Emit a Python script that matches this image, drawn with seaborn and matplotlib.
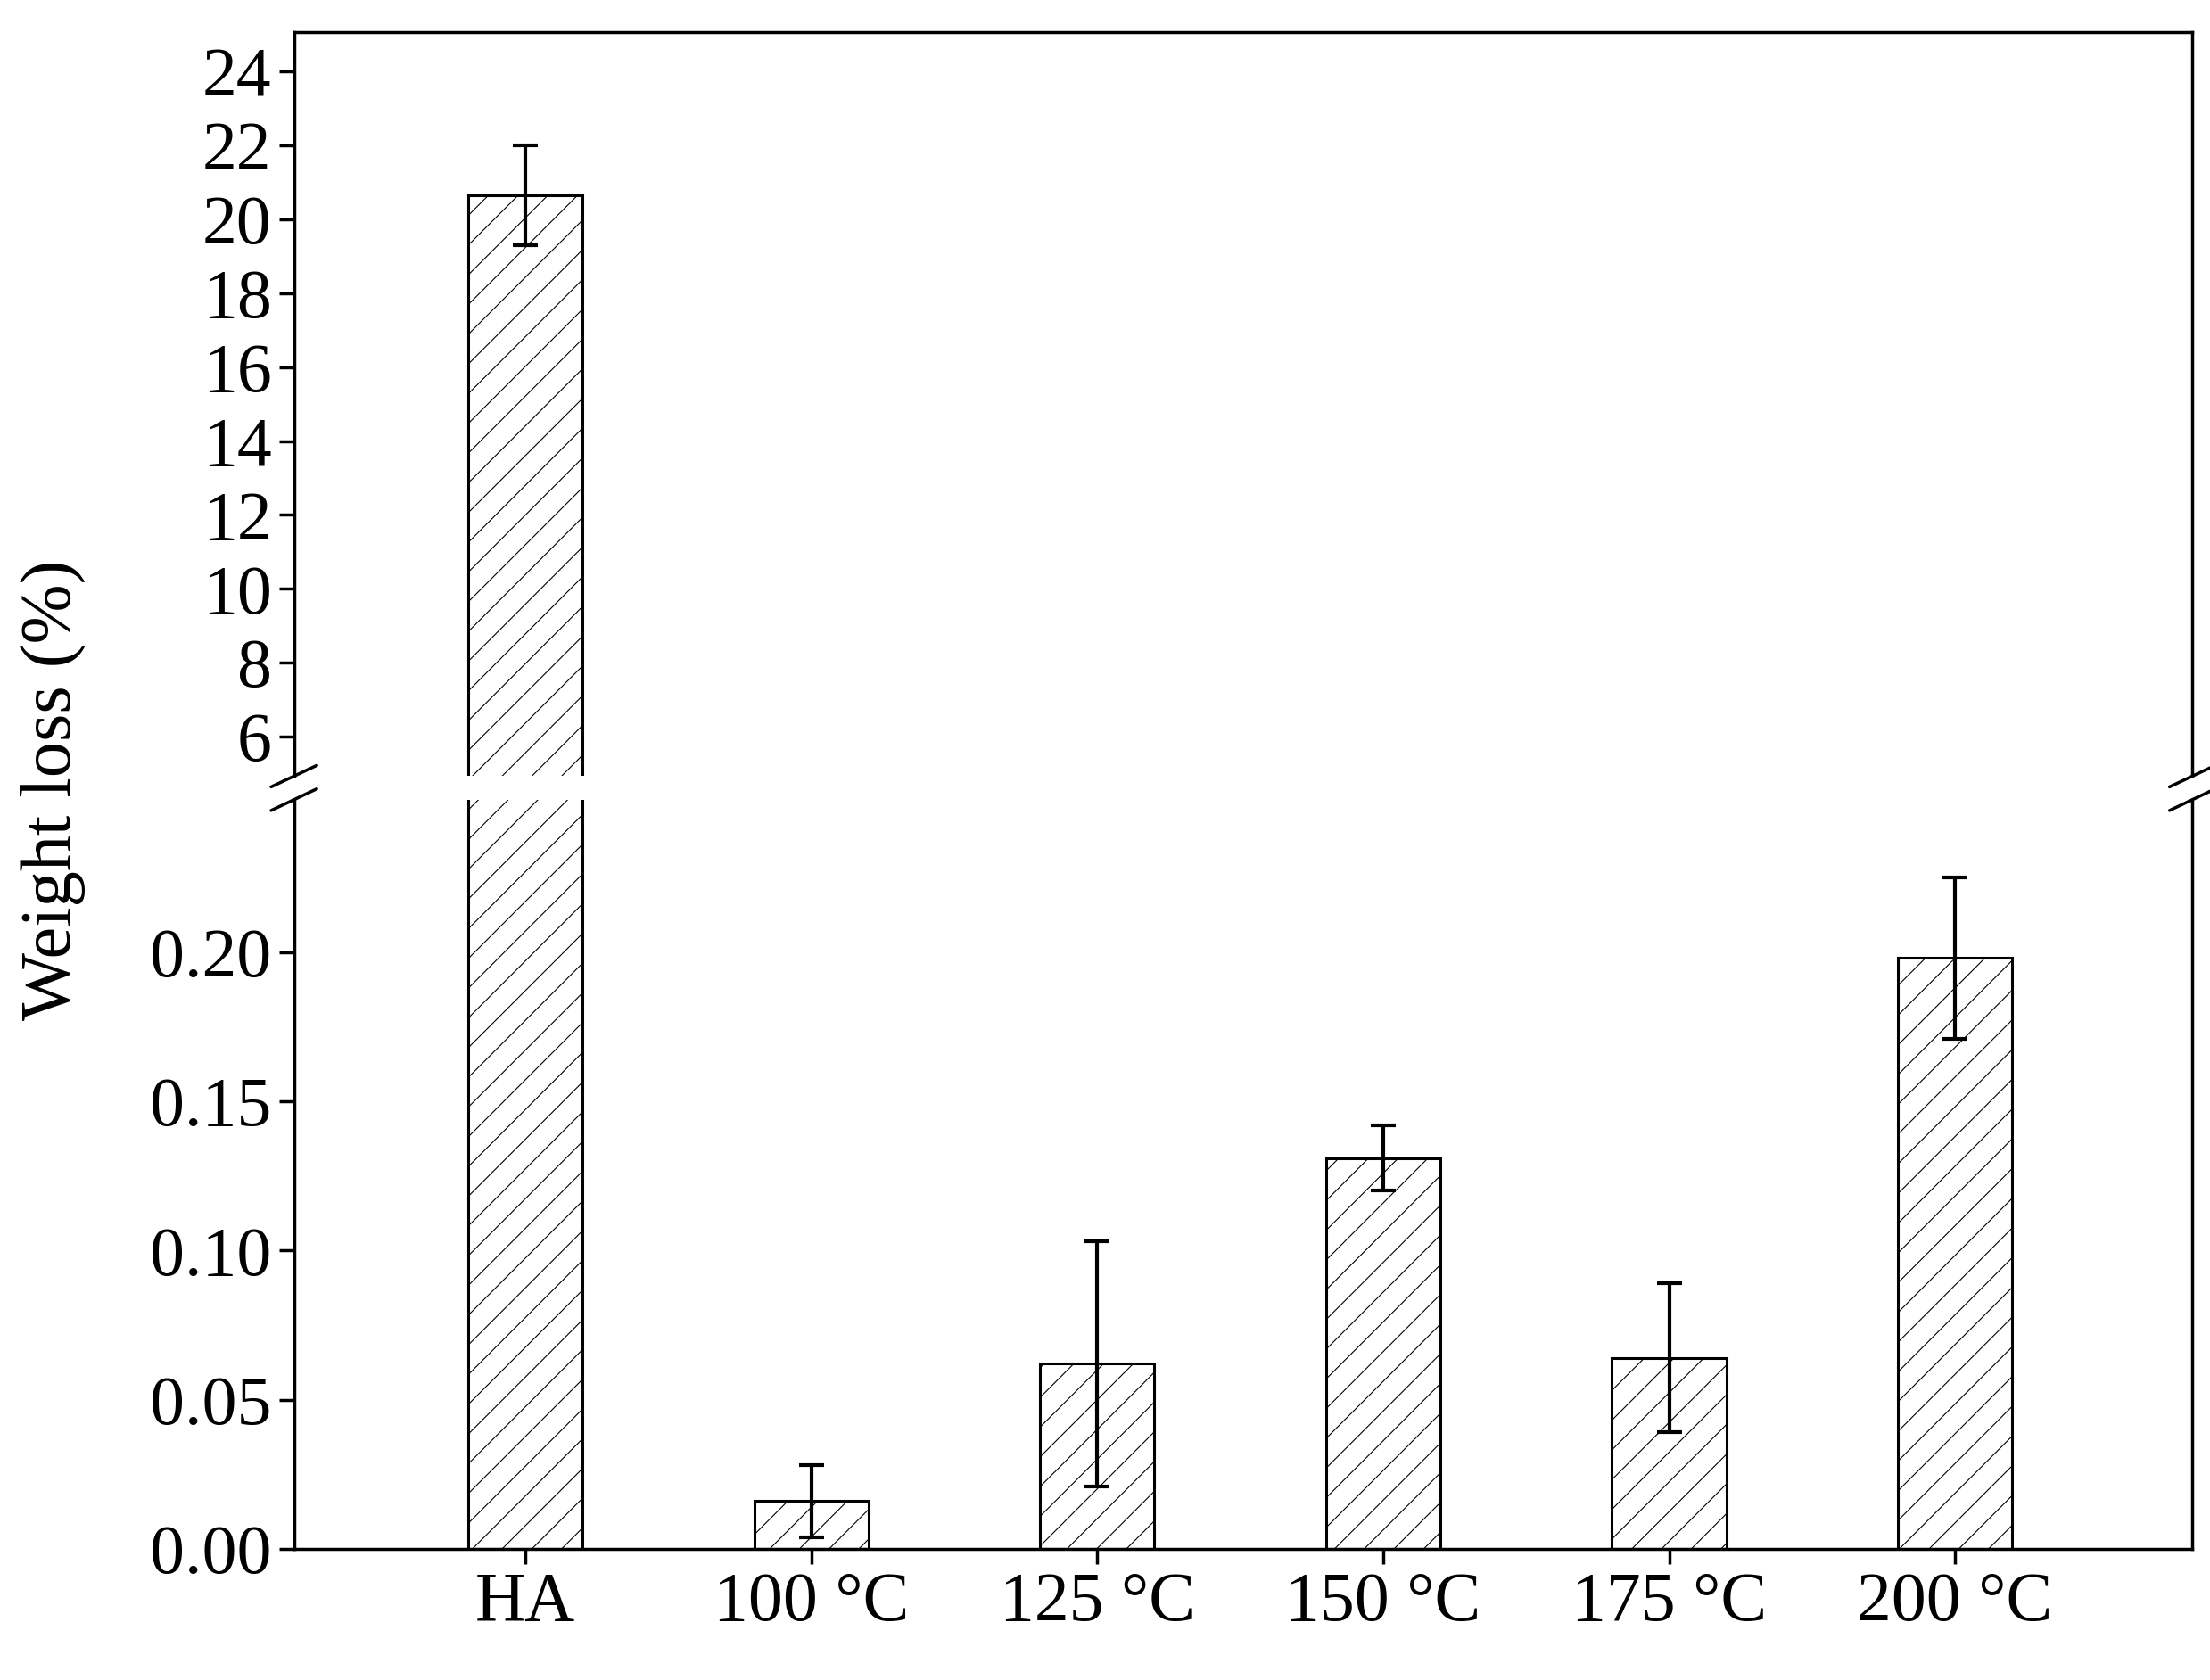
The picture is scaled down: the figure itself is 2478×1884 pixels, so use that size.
import numpy as np
import pandas as pd
import matplotlib
matplotlib.use("Agg")
import matplotlib.pyplot as plt
import seaborn as sns

categories = ["HA", "100 °C", "125 °C", "150 °C", "175 °C", "200 °C"]
weight_loss = [20.65, 0.016, 0.062, 0.131, 0.064, 0.198]
errors = [1.35, 0.012, 0.041, 0.011, 0.025, 0.027]

sns.set_style("ticks")
plt.rcParams["font.family"] = ["Liberation Serif", "DejaVu Serif"]
plt.rcParams["hatch.linewidth"] = 0.8
plt.rcParams["axes.linewidth"] = 2.5
plt.rcParams["text.color"] = "black"
plt.rcParams["xtick.color"] = "black"
plt.rcParams["ytick.color"] = "black"
plt.rcParams["axes.edgecolor"] = "black"

df = pd.DataFrame({"cat": categories, "val": weight_loss, "err": errors})

fig = plt.figure(figsize=(24.78, 18.84), dpi=100)
ax_top = fig.add_axes([0.133, 0.538, 0.859, 0.443])
ax_bot = fig.add_axes([0.133, 0.078, 0.859, 0.446])

for ax in (ax_top, ax_bot):
    sns.barplot(data=df, x="cat", y="val", ax=ax, width=0.4, color="white",
                edgecolor="black", linewidth=2.2)
    for p in ax.patches:
        p.set_hatch("/")
    ax.errorbar(np.arange(len(categories)), df["val"], yerr=df["err"], fmt="none",
                ecolor="black", elinewidth=3, capsize=10, capthick=3)
    ax.set_xlim(-0.81, 5.83)
    ax.set_xlabel("")
    ax.set_ylabel("")
    ax.tick_params(axis="both", direction="out", length=12, width=2.5, labelsize=56,
                   labelcolor="black", pad=6)
    for s in ax.spines.values():
        s.set_visible(True)

ax_top.set_ylim(4.93, 25.07)
ax_top.set_yticks(np.arange(6, 25, 2))
ax_top.spines["bottom"].set_visible(False)
ax_top.tick_params(axis="x", bottom=False, labelbottom=False)

ax_bot.set_ylim(0, 0.251)
ax_bot.set_yticks([0, 0.05, 0.10, 0.15, 0.20])
ax_bot.set_yticklabels(["0.00", "0.05", "0.10", "0.15", "0.20"])
ax_bot.spines["top"].set_visible(False)

# break marks
d = 0.012
kw = dict(color="black", linewidth=2.5, clip_on=False)
for x0 in (0, 1):
    ax_top.plot([x0 - d, x0 + d], [-d * 1.2, d * 1.2], transform=ax_top.transAxes, **kw)
    ax_bot.plot([x0 - d, x0 + d], [1 - d * 1.2, 1 + d * 1.2], transform=ax_bot.transAxes, **kw)

fig.text(0.024, 0.53, "Weight loss (%)", rotation=90, va="center", ha="center", fontsize=58)

fig.savefig("out.png", dpi=100)
